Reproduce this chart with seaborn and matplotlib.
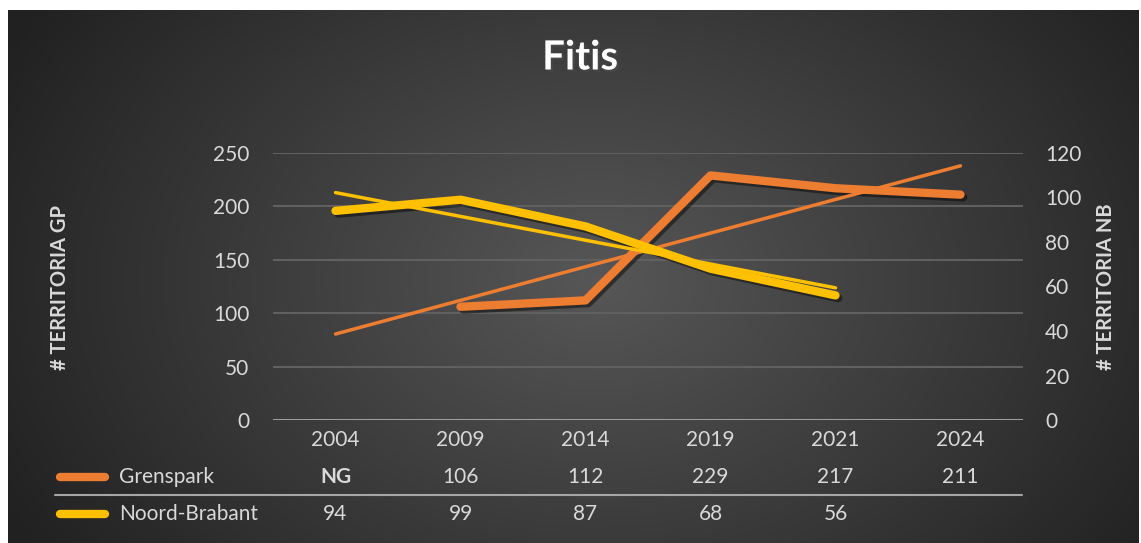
import numpy as np
import pandas as pd
import seaborn as sns
import matplotlib.pyplot as plt
from matplotlib import patheffects as pe
from matplotlib.lines import Line2D
from matplotlib.transforms import blended_transform_factory

years = ["2004", "2009", "2014", "2019", "2021", "2024"]
grenspark = [np.nan, 106, 112, 229, 217, 211]
grenspark_labels = ["NG", "106", "112", "229", "217", "211"]
noord_brabant = [94, 99, 87, 68, 56, np.nan]
nb_labels = ["94", "99", "87", "68", "56", ""]

ORANGE = "#ED7D31"
YELLOW = "#FFC000"
TEXT = "#D9D9D9"
W, H = 1141, 543

sns.set_theme(style="dark")
plt.rcParams["font.family"] = ["Lato", "DejaVu Sans"]

fig = plt.figure(figsize=(W / 100, H / 100), dpi=100)
fig.patch.set_facecolor("white")

# radial gradient background
bg = fig.add_axes([8 / W, 0, 1131 / W, 533 / H])
yy, xx = np.mgrid[0:533, 0:1131]
d = np.sqrt(((xx - 590) / 640) ** 2 + ((yy - 270) / 470) ** 2)
shade = np.clip(0.34 - 0.2 * np.clip(d, 0, 1.1), 0.13, 1)
bg.imshow(np.dstack([shade] * 3), aspect="auto", interpolation="bilinear")
bg.axis("off")

df = pd.DataFrame({"pos": range(len(years)), "Grenspark": grenspark,
                   "Noord-Brabant": noord_brabant})

ax = fig.add_axes([273 / W, 123 / H, 750 / W, 267 / H])
ax.set_facecolor("none")
ax2 = ax.twinx()

shadow = [pe.SimpleLineShadow(offset=(2, -2), alpha=0.45, shadow_color="black"), pe.Normal()]

sns.lineplot(data=df, x="pos", y="Grenspark", ax=ax, color=ORANGE, lw=6,
             solid_capstyle="round", path_effects=shadow, zorder=4)
sns.lineplot(data=df, x="pos", y="Noord-Brabant", ax=ax2, color=YELLOW, lw=6,
             solid_capstyle="round", path_effects=shadow, zorder=4)

# linear trendlines (Excel style)
g = df.dropna(subset=["Grenspark"])
k, b = np.polyfit(g["pos"], g["Grenspark"], 1)
tx = np.array([0, g["pos"].max()])
sns.lineplot(x=tx, y=k * tx + b, ax=ax, color=ORANGE, lw=2.5,
             solid_capstyle="round", zorder=5)
n = df.dropna(subset=["Noord-Brabant"])
k2, b2 = np.polyfit(n["pos"], n["Noord-Brabant"], 1)
tx2 = np.array([0, n["pos"].max()])
sns.lineplot(x=tx2, y=k2 * tx2 + b2, ax=ax2, color=YELLOW, lw=2.5,
             solid_capstyle="round", zorder=5)

ax.set_xlim(-0.5, 5.5)
ax.set_ylim(0, 250)
ax2.set_ylim(0, 120)
ax.set_yticks(range(0, 251, 50))
ax2.set_yticks(range(0, 121, 20))
ax.set_xticks(range(len(years)))
ax.set_xticklabels(years)
ax.set_xlabel("")
ax.set_ylabel("")
ax2.set_ylabel("")
ax.grid(axis="y", color="#606060", lw=1.5)
ax.grid(axis="x", visible=False)
ax2.grid(False)
ax.axhline(0, color="#a6a6a6", lw=2, zorder=3)
for a in (ax, ax2):
    for s in a.spines.values():
        s.set_visible(False)
ax.tick_params(axis="y", length=0, pad=17, labelsize=15, labelcolor=TEXT)
ax.tick_params(axis="x", length=0, pad=7, labelsize=15, labelcolor=TEXT)
ax2.tick_params(axis="y", length=0, pad=16, labelsize=15, labelcolor=TEXT)

# data table under the chart
tr = blended_transform_factory(ax.transData, fig.transFigure)
for i, lab in enumerate(grenspark_labels):
    ax.text(i, 1 - 477 / H, lab, transform=tr, ha="center", va="center",
            color=TEXT, fontsize=15, fontweight="bold" if lab == "NG" else "normal")
for i, lab in enumerate(nb_labels):
    ax.text(i, 1 - 514 / H, lab, transform=tr, ha="center", va="center",
            color=TEXT, fontsize=15)
for yp, name, col in [(477, "Grenspark", ORANGE), (514, "Noord-Brabant", YELLOW)]:
    fig.add_artist(Line2D([60 / W, 105 / W], [1 - yp / H] * 2, color=col, lw=6,
                          solid_capstyle="round"))
    fig.text(119 / W, 1 - yp / H, name, ha="left", va="center", color=TEXT, fontsize=15)
fig.add_artist(Line2D([55 / W, 1022 / W], [1 - 495 / H] * 2, color="#a6a6a6", lw=1.5))

fig.text(60 / W, 1 - 287 / H, "# TERRITORIA GP", rotation=90, ha="center", va="center",
         color=TEXT, fontsize=14.5, fontweight="bold")
fig.text(1106 / W, 1 - 287 / H, "# TERRITORIA NB", rotation=90, ha="center", va="center",
         color=TEXT, fontsize=14.5, fontweight="bold")
fig.text(580 / W, 1 - 58 / H, "Fitis", ha="center", va="center", color="white",
         fontsize=29, fontweight="bold",
         path_effects=[pe.withSimplePatchShadow(offset=(1.5, -1.5), alpha=0.6)])

fig.savefig("out.png", dpi=100)
